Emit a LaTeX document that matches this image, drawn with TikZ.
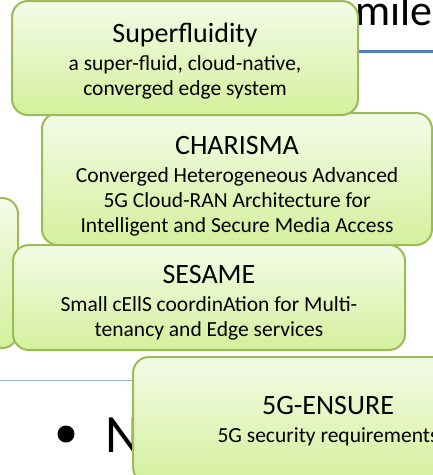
\documentclass[tikz,border=0pt]{standalone}
\usepackage{fontspec}
\setmainfont{Carlito}
\definecolor{boxline}{RGB}{155,187,89}
\definecolor{boxtop}{RGB}{244,251,231}
\definecolor{boxbot}{RGB}{212,240,156}
\definecolor{titleblue}{RGB}{79,129,189}
\definecolor{ruleblue}{RGB}{149,179,215}
\newcommand{\projname}[1]{{\fontsize{28}{28}\selectfont #1}\\[3pt]}
\tikzset{
  projbox/.style={draw=boxline, line width=2pt, rounded corners=16pt,
    top color=boxtop, bottom color=boxbot, inner sep=0pt},
  projtext/.style={align=center, font=\fontsize{21.5}{25}\selectfont, inner sep=0pt},
}
\begin{document}
\begin{tikzpicture}[x=1pt,y=-1pt]
    \useasboundingbox (0,0) rectangle (433,475);
    \clip (0,0) rectangle (433,475);
    % slide underneath
    \node[anchor=base west, inner sep=0pt, font=\fontsize{44}{44}\selectfont] (title) at (355,25) {mile};
    \draw[titleblue, line width=3.5pt] (330,51.5) -- (433,51.5);
    \draw[ruleblue, line width=1pt] (0,380) -- (200,380);
    \fill (66,434) circle (8.5);
    \node[anchor=base west, inner sep=0pt, font=\fontsize{54}{54}\selectfont] (item) at (105,452) {N};
    % project boxes
    \node[projbox, minimum width=218, minimum height=150] (other) at (-91,273) {};
    \node[projbox, minimum width=390, minimum height=132] (charisma) at (237,179) {};
    \node[projtext] (charisma-txt) at ([yshift=-7pt]charisma.center)
        {\projname{CHARISMA} Converged Heterogeneous Advanced\\ 5G Cloud-RAN Architecture for\\ Intelligent and Secure Media Access};
    \node[projbox, minimum width=346, minimum height=114] (superfluidity) at (185,58) {};
    \node[projtext] (superfluidity-txt) at ([yshift=-3.5pt]superfluidity.center)
        {\projname{Superfluidity} a super-fluid, cloud-native,\\ converged edge system};
    \node[projbox, minimum width=392, minimum height=105] (sesame) at (209,297.5) {};
    \node[projtext] (sesame-txt) at ([yshift=-5pt]sesame.center)
        {\projname{SESAME} Small cEllS coordinAtion for Multi-\\ tenancy and Edge services};
    \node[projbox, minimum width=390, minimum height=126] (ensure) at (328,420) {};
    \node[projtext] (ensure-txt) at ([yshift=-1pt]ensure.center)
        {\projname{5G-ENSURE} 5G security requirements};
\end{tikzpicture}
\end{document}
